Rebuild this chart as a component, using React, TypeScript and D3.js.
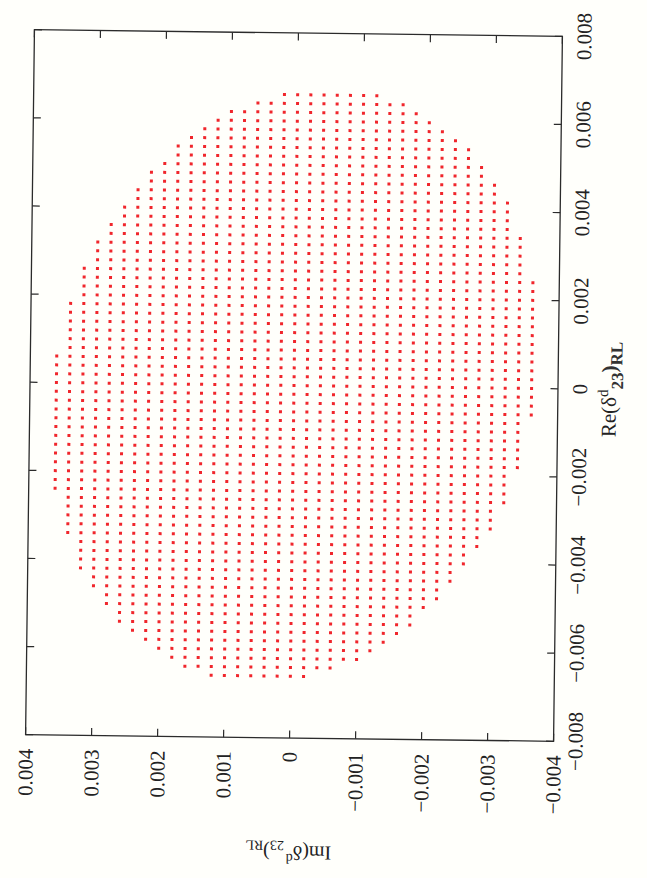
import React from "react";
import * as d3 from "d3";

// Grid spacing of the scan points (both Re and Im), in data units
const GRID_STEP = 0.0002;

// Row index (Re = index * GRID_STEP), top row first
const ROW_RE_INDEX = [
  33, 32, 31, 30, 29, 28, 27, 26, 25, 24, 23, 22, 21, 20, 19, 18, 17, 16, 15, 14, 13,
  12, 11, 10, 9, 8, 7, 6, 5, 4, 3, 2, 1, 0,
  -1, -2, -3, -4, -5, -6, -7, -8, -9, -10, -11, -12, -13, -14, -15, -16, -17, -18, -19,
  -20, -21, -22, -23, -24, -25, -26, -27, -28, -29, -30, -31, -32, -33,
];
// Smallest Im index in each row (Im = index * GRID_STEP)
const ROW_IM_MIN = [
  -6, -8, -9, -10, -11, -12, -13, -13, -14, -14, -15, -15, -16, -16, -16, -16, -17, -17, -17, -17, -17,
  -18, -18, -18, -18, -18, -18, -18, -18, -18, -18, -18, -18, -18,
  -18, -18, -18, -17, -17, -17, -17, -17, -17, -16, -16, -16, -16, -15, -15, -15, -14, -14, -13,
  -13, -12, -12, -11, -11, -10, -9, -9, -8, -7, -6, -5, -3, -1,
];
// Largest Im index in each row
const ROW_IM_MAX = [
  1, 3, 5, 6, 7, 8, 9, 9, 10, 11, 11, 12, 12, 13, 13, 14, 14, 15, 15, 15, 16,
  16, 16, 16, 17, 17, 17, 17, 17, 17, 18, 18, 18, 18,
  18, 18, 18, 18, 18, 18, 18, 18, 18, 18, 18, 18, 17, 17, 17, 17, 17, 16, 16,
  16, 16, 15, 15, 14, 14, 13, 13, 12, 11, 10, 9, 8, 6,
];

const RE_DOMAIN = [-0.008, 0.008];
const IM_DOMAIN = [-0.004, 0.004];
const RE_TICKS = [-0.008, -0.006, -0.004, -0.002, 0, 0.002, 0.004, 0.006, 0.008];
const RE_TICK_LABELS = ["\u22120.008", "\u22120.006", "\u22120.004", "\u22120.002", "0", "0.002", "0.004", "0.006", "0.008"];
const IM_TICKS = [0.004, 0.003, 0.002, 0.001, 0, -0.001, -0.002, -0.003, -0.004];
const IM_TICK_LABELS = ["0.004", "0.003", "0.002", "0.001", "0", "\u22120.001", "\u22120.002", "\u22120.003", "\u22120.004"];

export default function App() {
  const W = 705;
  const H = 528;
  const x = d3.scaleLinear().domain(RE_DOMAIN).range([0, W]);
  const y = d3.scaleLinear().domain(IM_DOMAIN).range([H, 0]);

  const pts: [number, number][] = [];
  ROW_RE_INDEX.forEach((ri, k) => {
    for (let j = ROW_IM_MIN[k]; j <= ROW_IM_MAX[k]; j++) {
      pts.push([ri * GRID_STEP, j * GRID_STEP]);
    }
  });

  const tl = 7.5;
  const axisColor = "#2b2b2b";
  const font = "'Liberation Serif', 'Times New Roman', serif";

  return (
    <svg
      width={647}
      height={878}
      style={{ position: "absolute", left: 0, top: 0, background: "#fffffb" }}
      fontFamily={font}
    >
      <rect x={0} y={0} width={647} height={878} fill="#fffffb" />
      <g transform={`translate(294,385.5) rotate(-89.28) translate(${-W / 2},${-H / 2})`}>
        {pts.map(([re, im], i) => (
          <rect key={i} x={x(re) - 1.5} y={y(im) - 1.5} width={3} height={3} fill="#f0262c" />
        ))}
        <rect x={0} y={0} width={W} height={H} fill="none" stroke={axisColor} strokeWidth={1.3} />
        {RE_TICKS.map((v, i) => (
          <g key={"rt" + i}>
            <line x1={x(v)} x2={x(v)} y1={H} y2={H - tl} stroke={axisColor} strokeWidth={1.2} />
            <line x1={x(v)} x2={x(v)} y1={0} y2={tl} stroke={axisColor} strokeWidth={1.2} />
            <text x={x(v)} y={H + 29} textAnchor="middle" fontSize={21} fill="#222">
              {RE_TICK_LABELS[i]}
            </text>
          </g>
        ))}
        {IM_TICKS.map((v, i) => (
          <g key={"it" + i}>
            <line x1={0} x2={tl} y1={y(v)} y2={y(v)} stroke={axisColor} strokeWidth={1.2} />
            <line x1={W} x2={W - tl} y1={y(v)} y2={y(v)} stroke={axisColor} strokeWidth={1.2} />
            <text x={-14} y={y(v)} dy="0.35em" textAnchor="end" fontSize={21} fill="#222">
              {IM_TICK_LABELS[i]}
            </text>
          </g>
        ))}
        <text x={W / 2} y={H + 58} textAnchor="middle" fontSize={21} fill="#222">
          Re(δ
          <tspan dy={-8} fontSize={15}>d</tspan>
          <tspan dy={15} fontSize={17} fontWeight="bold" fill="#333">23</tspan>
          <tspan dy={-7} fontWeight="bold" fill="#333">)</tspan>
          <tspan dy={6} fontSize={17} fontWeight="bold" fill="#333">RL</tspan>
        </text>
        <text
          transform={`translate(-108,${H / 2}) rotate(-90)`}
          textAnchor="middle"
          fontSize={20}
          fill="#222"
        >
          Im(δ
          <tspan dy={-8} fontSize={14}>d</tspan>
          <tspan dx={2} dy={13} fontSize={14}>23</tspan>
          <tspan dy={-5}>)</tspan>
          <tspan dy={5} fontSize={14}>RL</tspan>
        </text>
      </g>
    </svg>
  );
}
